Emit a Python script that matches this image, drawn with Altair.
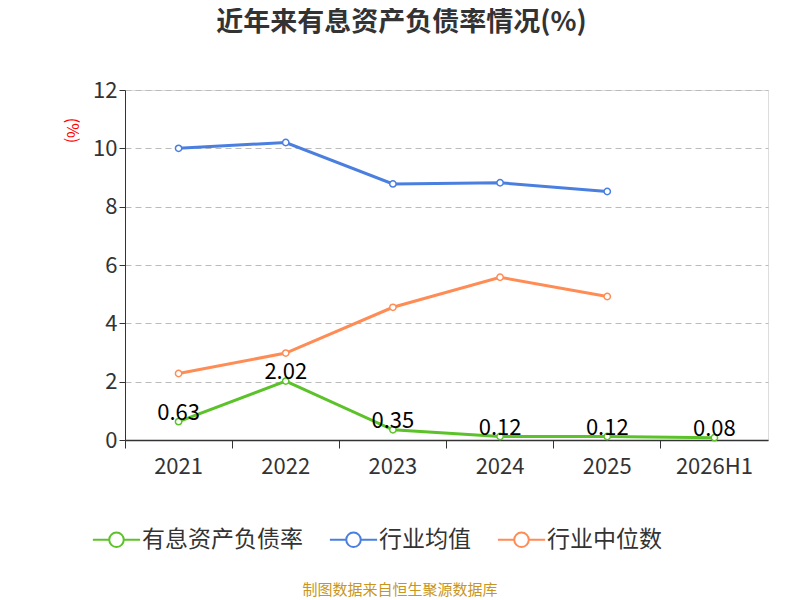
import altair as alt
import pandas as pd

years = ["2021", "2022", "2023", "2024", "2025", "2026H1"]
debt = [0.63, 2.02, 0.35, 0.12, 0.12, 0.08]
avg = [10.0, 10.2, 8.78, 8.82, 8.52]
med = [2.28, 2.98, 4.55, 5.58, 4.92]
names = ["有息资产负债率", "行业均值", "行业中位数"]
colors = ["#5cc22a", "#4a7fe0", "#ff8c55"]

rows = []
for y, v in zip(years, debt):
    rows.append({"year": y, "v": v, "s": names[0]})
for y, v in zip(years, avg):
    rows.append({"year": y, "v": v, "s": names[1]})
for y, v in zip(years, med):
    rows.append({"year": y, "v": v, "s": names[2]})
df = pd.DataFrame(rows)

sym = "M-2.6,0 L-0.8,0 M0.8,0 L2.6,0 M0.8,0 A0.8,0.8 0 1 1 -0.8,0 A0.8,0.8 0 1 1 0.8,0"

x = alt.X("year:N", sort=years, title=None,
          scale=alt.Scale(type="band", paddingInner=0, paddingOuter=0),
          axis=alt.Axis(bandPosition=0, labelFontSize=22, labelColor="#333", labelPadding=8,
                        tickSize=8, domainColor="#333", tickColor="#333", labelAngle=0,
                        grid=False, domainWidth=1.5))
y = alt.Y("v:Q", title="(%)", scale=alt.Scale(domain=[0, 12]),
          axis=alt.Axis(values=[0, 2, 4, 6, 8, 10, 12], labelFontSize=22, labelColor="#333",
                        domain=True, domainColor="#333", tickColor="#333", tickSize=6,
                        gridDash=[6, 4], gridColor="#bbb", titleColor="red", titleFontSize=16,
                        titleFontWeight="normal", titleAngle=90, titleX=-62, titleY=40))
color = alt.Color("s:N", sort=names, scale=alt.Scale(domain=names, range=colors),
                  legend=alt.Legend(title=None, orient="none", legendX=-20, legendY=438,
                                    direction="horizontal", symbolType=sym, symbolSize=330,
                                    symbolStrokeWidth=2, labelFontSize=23, labelColor="#333",
                                    columnPadding=22, labelOffset=14, labelLimit=300))

base = alt.Chart(df)
lines = base.mark_line(strokeWidth=3).encode(x=x, y=y, color=color)
pts = base.mark_point(filled=True, fill="white", size=40, strokeWidth=1.5, opacity=1).encode(
    x=x, y=y, stroke=alt.Stroke("s:N", scale=alt.Scale(domain=names, range=colors), legend=None))
lbl = base.transform_filter(alt.datum.s == names[0]).mark_text(fontSize=22, color="black", dy=-9).encode(
    x=x, y=y, text=alt.Text("v:Q", format=".2f"))
src = alt.Chart(pd.DataFrame({"t": ["制图数据来自恒生聚源数据库"]})).mark_text(
    fontSize=15, color="#c8961e", clip=False).encode(x=alt.value(275), y=alt.value(500), text="t:N")

chart = alt.layer(lines, pts, lbl, src).properties(
    width=643, height=350,
    autosize=alt.AutoSizeParams(type="none"),
    padding={"left": 117, "top": 82, "right": 24, "bottom": 160},
    title=alt.Title("近年来有息资产负债率情况(%)", fontSize=27, fontWeight="bold", color="#333",
                    anchor="middle", offset=42, dx=-45),
).configure_view(stroke=None).configure(font="Noto Sans CJK SC")

chart.save("out.html", embed_options={"renderer": "svg", "actions": False})
